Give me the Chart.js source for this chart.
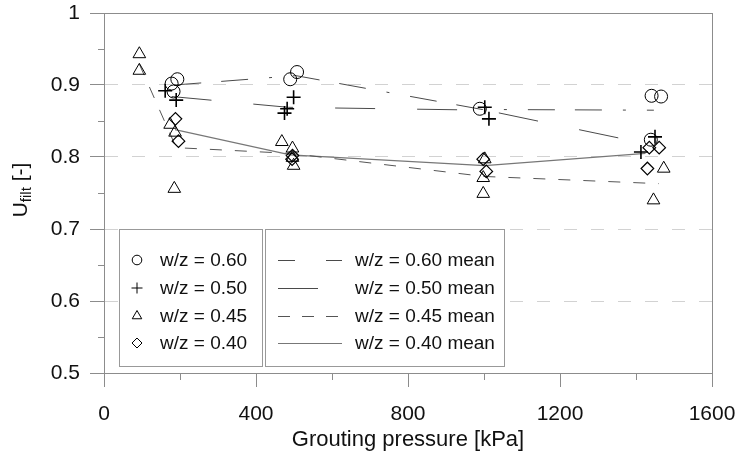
<!DOCTYPE html>
<html>
<head>
<meta charset="utf-8">
<script src="https://cdn.jsdelivr.net/npm/chart.js@4.4.1/dist/chart.umd.min.js"></script>
<style>
  body { margin: 0; background: #fff; }
  #wrap { width: 739px; height: 457px; }
</style>
</head>
<body>
<div id="wrap"><canvas id="myChart" width="739" height="457"></canvas></div>
<script>
// Single measurements, pressure [kPa] and Ufilt [-]
const p60 = [178, 193, 183, 490, 508, 989, 1441, 1466, 1439];
const u60 = [0.902, 0.908, 0.891, 0.908, 0.918, 0.867, 0.885, 0.884, 0.824];

const p50 = [161, 190, 499, 482, 475, 1002, 1013, 1450, 1413];
const u50 = [0.892, 0.879, 0.883, 0.867, 0.861, 0.869, 0.853, 0.828, 0.807];

const p45 = [93, 93, 174, 187, 185, 468, 496, 496, 499, 1002, 998, 998, 1473, 1446];
const u45 = [0.943, 0.920, 0.845, 0.834, 0.756, 0.821, 0.812, 0.799, 0.788, 0.797, 0.771, 0.749, 0.784, 0.740];

const p40 = [188, 196, 496, 495, 998, 1006, 1435, 1461, 1430];
const u40 = [0.853, 0.822, 0.802, 0.797, 0.797, 0.780, 0.813, 0.813, 0.784];

// Mean lines
const mean60P = [185, 505, 995, 1447];
const mean60U = [0.900, 0.913, 0.866, 0.865];
const mean50P = [178, 485, 1005, 1431];
const mean50U = [0.884, 0.869, 0.865, 0.818];
const mean45P = [93, 190, 490, 1000, 1460];
const mean45U = [0.929, 0.813, 0.805, 0.773, 0.763];
const mean40P = [187, 490, 1002, 1425];
const mean40U = [0.838, 0.803, 0.788, 0.805];

// Axis ticks
const xTicks = [0, 400, 800, 1200, 1600];
const xMinor = [200, 600, 1000, 1400];
const yTicks = [0.5, 0.6, 0.7, 0.8, 0.9, 1];
const yMinor = [0.55, 0.65, 0.75, 0.85, 0.95];

const seriesLabels = ['w/z = 0.60', 'w/z = 0.50', 'w/z = 0.45', 'w/z = 0.40'];
const meanLabels = ['w/z = 0.60 mean', 'w/z = 0.50 mean', 'w/z = 0.45 mean', 'w/z = 0.40 mean'];

const FONT = '"Liberation Sans", Arial, sans-serif';
const AXIS_GRAY = '#8c8c8c';

function pts(xs, ys) {
    return xs.map((x, i) => ({x: x, y: ys[i]}));
}

function markerSet(label, xs, ys, style, r, bw) {
    return {
        label: label,
        data: pts(xs, ys),
        showLine: false,
        pointStyle: style,
        pointRadius: r,
        pointHoverRadius: r,
        pointBorderColor: '#000',
        pointBackgroundColor: 'rgba(0,0,0,0)',
        pointBorderWidth: bw,
        borderColor: '#000',
        backgroundColor: 'rgba(0,0,0,0)'
    };
}

function meanSet(label, xs, ys, color, dash, bw) {
    return {
        label: label,
        data: pts(xs, ys),
        showLine: true,
        pointRadius: 0,
        borderColor: color,
        borderWidth: bw,
        borderDash: dash,
        fill: false,
        tension: 0
    };
}

const datasets = [
    markerSet(seriesLabels[0], p60, u60, 'circle', 6.5, 1),
    markerSet(seriesLabels[1], p50, u50, 'cross', 7, 1.6),
    markerSet(seriesLabels[2], p45, u45, 'triangle', 7.3, 1),
    markerSet(seriesLabels[3], p40, u40, 'rectRot', 6.3, 1.2),
    meanSet(meanLabels[0], mean60P, mean60U, '#4a4a4a', [27, 20, 27, 21, 3, 21], 1),
    meanSet(meanLabels[1], mean50P, mean50U, '#4a4a4a', [40, 42], 1),
    meanSet(meanLabels[2], mean45P, mean45U, '#555', [12, 13], 1),
    meanSet(meanLabels[3], mean40P, mean40U, '#777', [], 1.1)
];

// frame, minor ticks, y title with subscript and the two legend boxes
const extras = {
    id: 'extras',
    beforeDatasetsDraw(chart) {
        const ctx = chart.ctx;
        const a = chart.chartArea;
        ctx.save();
        ctx.strokeStyle = AXIS_GRAY;
        ctx.lineWidth = 1;
        ctx.strokeRect(a.left + 0.5, a.top + 0.5, a.right - a.left, a.bottom - a.top);
        ctx.restore();
    },
    afterDraw(chart) {
        const ctx = chart.ctx;
        const xs = chart.scales.x;
        const ys = chart.scales.y;
        const a = chart.chartArea;

        // minor ticks
        ctx.save();
        ctx.strokeStyle = AXIS_GRAY;
        ctx.lineWidth = 1;
        ctx.beginPath();
        yMinor.forEach(v => {
            const py = Math.round(ys.getPixelForValue(v)) + 0.5;
            ctx.moveTo(a.left - 6, py);
            ctx.lineTo(a.left, py);
        });
        xMinor.forEach(v => {
            const px = Math.round(xs.getPixelForValue(v)) + 0.5;
            ctx.moveTo(px, a.bottom);
            ctx.lineTo(px, a.bottom + 7);
        });
        ctx.stroke();
        ctx.restore();

        // y axis title: U with subscript filt
        ctx.save();
        ctx.fillStyle = '#111';
        ctx.textBaseline = 'alphabetic';
        const big = '21px ' + FONT;
        const small = '15px ' + FONT;
        ctx.font = big;
        const w1 = ctx.measureText('U').width;
        const w3 = ctx.measureText(' [-]').width;
        ctx.font = small;
        const w2 = ctx.measureText('filt').width;
        const total = w1 + w2 + w3;
        ctx.translate(27, 190 + total / 2);
        ctx.rotate(-Math.PI / 2);
        ctx.font = big;
        ctx.fillText('U', 0, 0);
        ctx.font = small;
        ctx.fillText('filt', w1, 4);
        ctx.font = big;
        ctx.fillText(' [-]', w1 + w2, 0);
        ctx.restore();

        // legend boxes
        const rows = [260, 288, 316, 343];
        ctx.save();
        ctx.fillStyle = '#fff';
        ctx.strokeStyle = '#999';
        ctx.lineWidth = 1;
        ctx.fillRect(119.5, 229.5, 143, 137);
        ctx.strokeRect(119.5, 229.5, 143, 137);
        ctx.fillRect(265.5, 229.5, 239, 137);
        ctx.strokeRect(265.5, 229.5, 239, 137);

        const legendMarks = [
            {pointStyle: 'circle', radius: 4.8, borderWidth: 1},
            {pointStyle: 'cross', radius: 5.5, borderWidth: 1.4},
            {pointStyle: 'triangle', radius: 5.5, borderWidth: 1},
            {pointStyle: 'rectRot', radius: 5, borderWidth: 1.1}
        ];
        ctx.font = '19px ' + FONT;
        ctx.textBaseline = 'middle';
        rows.forEach((ry, i) => {
            ctx.strokeStyle = '#000';
            ctx.fillStyle = 'rgba(0,0,0,0)';
            Chart.helpers.drawPoint(ctx, legendMarks[i], 137, ry);
            ctx.fillStyle = '#111';
            ctx.fillText(seriesLabels[i], 160, ry + 1);

            const ds = chart.data.datasets[4 + i];
            ctx.strokeStyle = ds.borderColor;
            ctx.lineWidth = ds.borderWidth;
            ctx.setLineDash(i === 0 ? [17, 31] : (i === 2 ? [12, 12] : []));
            ctx.beginPath();
            ctx.moveTo(278, ry + 0.5);
            ctx.lineTo(i === 1 ? 318 : 342, ry + 0.5);
            ctx.stroke();
            ctx.setLineDash([]);
            ctx.fillStyle = '#111';
            ctx.fillText(meanLabels[i], 355, ry + 1);
        });
        ctx.restore();
    }
};

const myChart = document.getElementById('myChart');

let scatterChart = new Chart(myChart, {
    type: 'scatter',
    data: {datasets: datasets},
    options: {
        responsive: false,
        animation: false,
        events: [],
        layout: {padding: {top: 13, right: 27, left: 0, bottom: 0}},
        plugins: {
            legend: {display: false},
            tooltip: {enabled: false}
        },
        scales: {
            x: {
                type: 'linear',
                min: 0,
                max: 1600,
                afterFit: function(scale) {
                    scale.height = 84;
                    scale.paddingLeft = 0;
                    scale.paddingRight = 0;
                },
                afterBuildTicks: function(scale) { scale.ticks = xTicks.map(v => ({value: v})); },
                border: {color: AXIS_GRAY, width: 1},
                grid: {
                    drawOnChartArea: false,
                    tickLength: 14,
                    tickColor: AXIS_GRAY
                },
                ticks: {
                    color: '#111',
                    padding: 15,
                    maxRotation: 0,
                    font: {family: FONT, size: 21},
                    callback: v => String(v)
                },
                title: {
                    display: true,
                    text: 'Grouting pressure [kPa]',
                    color: '#111',
                    font: {family: FONT, size: 22},
                    padding: {top: 0, bottom: 4}
                }
            },
            y: {
                type: 'linear',
                min: 0.5,
                max: 1,
                afterFit: function(scale) {
                    scale.width = 104;
                    scale.paddingTop = 0;
                    scale.paddingBottom = 0;
                },
                afterBuildTicks: function(scale) { scale.ticks = yTicks.map(v => ({value: v})); },
                border: {color: AXIS_GRAY, width: 1, dash: [13, 14]},
                grid: {
                    color: c => (c.tick && c.tick.value > 0.55 && c.tick.value < 0.95) ? '#d2d2d2' : 'rgba(0,0,0,0)',
                    tickLength: 14,
                    tickColor: AXIS_GRAY,
                    tickBorderDash: []
                },
                ticks: {
                    color: '#111',
                    padding: 10,
                    font: {family: FONT, size: 21},
                    callback: v => String(Math.round(v * 10) / 10)
                }
            }
        }
    },
    plugins: [extras]
});
</script>
</body>
</html>
